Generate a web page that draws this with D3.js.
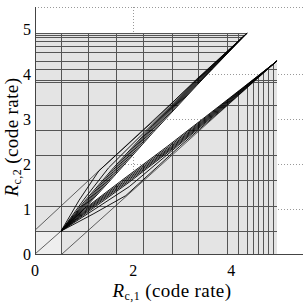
<!DOCTYPE html>
<html>
<head>
<meta charset="utf-8">
<script src="https://cdn.jsdelivr.net/npm/d3@7"></script>
<style>
  body { margin: 0; background: #fff; }
  text { font-family: "Liberation Serif", serif; fill: #000; }
</style>
</head>
<body>
<svg id="chart" width="303" height="303"></svg>
<script>
// tick labels
const xTicks = [0, 2, 4]
const yTicks = [0, 1, 2, 3, 4, 5]
// dotted reference lines
const dotX = [2]
const dotY = [1, 2, 3, 4, 5.5]

// grid of code rates (solid lines inside the grey region)
const gridX = [0.53, 1.08, 1.65, 2.2, 2.79, 3.32, 3.91, 4.13, 4.32, 4.44, 4.54, 4.64, 4.75, 4.85, 4.93]
const gridY = [0.51, 1.07, 1.65, 2.2, 2.76, 3.32, 3.83, 3.88, 4.12, 4.3, 4.5, 4.63, 4.74, 4.83, 4.88, 4.92]

// boundary of the grey region (wedge edges)
const upperEdge = [[1.0, 1.0], [1.6, 1.72], [2.4, 2.7], [3.3, 3.76], [4.32, 4.92]]
const lowerEdge = [[1.0, 1.0], [1.72, 1.6], [2.7, 2.4], [3.76, 3.3], [4.93, 4.3]]
const corner = [0.53, 0.51]

// thin straight lines
const thinLines = [
  [[0, 0], [0.53, 0.51]],
  [[0, 0.53], [4.32, 4.92]],
  [[0.55, 0], [4.93, 4.3]]
]

// bundle of curves along the upper edge
const upperBand = [
  [[0.53, 0.51], [0.9, 1.2], [1.3, 1.85], [2.4, 2.95], [3.3, 3.9], [4.32, 4.92]],
  [[0.53, 0.51], [1.0, 1.22], [1.5, 1.92], [2.4, 2.9], [3.3, 3.88], [4.32, 4.92]],
  [[0.53, 0.51], [1.0, 1.16], [1.6, 1.92], [2.4, 2.87], [3.3, 3.86], [4.32, 4.92]],
  [[0.53, 0.51], [1.0, 1.12], [1.6, 1.88], [2.4, 2.84], [3.3, 3.84], [4.32, 4.92]],
  [[0.53, 0.51], [1.0, 1.09], [1.6, 1.84], [2.4, 2.81], [3.3, 3.82], [4.32, 4.92]],
  [[0.53, 0.51], [1.0, 1.06], [1.6, 1.8], [2.4, 2.78], [3.3, 3.8], [4.32, 4.92]],
  [[0.53, 0.51], [1.0, 1.03], [1.6, 1.76], [2.4, 2.74], [3.3, 3.78], [4.32, 4.92]],
  [[0.53, 0.51], [1.0, 1.0], [1.6, 1.72], [2.4, 2.7], [3.3, 3.76], [4.32, 4.92]]
]
// bundle of curves along the lower edge
const lowerBand = [
  [[0.53, 0.51], [1.2, 0.9], [1.85, 1.3], [2.95, 2.4], [3.9, 3.3], [4.93, 4.3]],
  [[0.53, 0.51], [1.22, 1.0], [1.92, 1.5], [2.9, 2.4], [3.88, 3.3], [4.93, 4.3]],
  [[0.53, 0.51], [1.16, 1.0], [1.92, 1.6], [2.87, 2.4], [3.86, 3.3], [4.93, 4.3]],
  [[0.53, 0.51], [1.12, 1.0], [1.88, 1.6], [2.84, 2.4], [3.84, 3.3], [4.93, 4.3]],
  [[0.53, 0.51], [1.09, 1.0], [1.84, 1.6], [2.81, 2.4], [3.82, 3.3], [4.93, 4.3]],
  [[0.53, 0.51], [1.06, 1.0], [1.8, 1.6], [2.78, 2.4], [3.8, 3.3], [4.93, 4.3]],
  [[0.53, 0.51], [1.03, 1.0], [1.76, 1.6], [2.74, 2.4], [3.78, 3.3], [4.93, 4.3]],
  [[0.53, 0.51], [1.0, 1.0], [1.72, 1.6], [2.7, 2.4], [3.76, 3.3], [4.93, 4.3]]
]

const svg = d3.select('#chart')
const x = d3.scaleLinear().domain([0, 5.5]).range([35, 305])
const y = d3.scaleLinear().domain([0, 5.5]).range([254, 7])
const px = v => Math.round(x(v)) + 0.5
const py = v => Math.round(y(v)) + 0.5

const line = d3.line().x(d => x(d[0])).y(d => y(d[1]))

// dotted reference lines
svg.append('g').selectAll('line').data(dotX).join('line')
  .attr('x1', d => px(d)).attr('x2', d => px(d))
  .attr('y1', y(0)).attr('y2', y(5.5))
  .attr('stroke', '#999').attr('stroke-dasharray', '1,2')
svg.append('g').selectAll('line').data(dotY).join('line')
  .attr('x1', x(0)).attr('x2', 303)
  .attr('y1', d => py(d)).attr('y2', d => py(d))
  .attr('stroke', '#999').attr('stroke-dasharray', '1,2')

// grey region
const xMax = gridX[gridX.length - 1]
const yMax = gridY[gridY.length - 1]
const region = [[0, 0], [0, yMax]]
  .concat(upperEdge.slice().reverse())
  .concat(lowerEdge.slice(1))
  .concat([[xMax, 0]])

svg.append('clipPath').attr('id', 'grey-clip')
  .append('path').attr('d', line(region) + 'Z')

svg.append('path')
  .attr('d', line(region) + 'Z')
  .attr('fill', '#e4e4e4')

svg.append('rect')
  .attr('x', x(0)).attr('y', y(corner[1]))
  .attr('width', x(corner[0]) - x(0))
  .attr('height', y(0) - y(corner[1]))
  .attr('fill', '#eeeeee')

// solid grid
const grid = svg.append('g').attr('clip-path', 'url(#grey-clip)')
grid.selectAll('line.gx').data(gridX).join('line')
  .attr('class', 'gx')
  .attr('x1', d => px(d)).attr('x2', d => px(d))
  .attr('y1', y(0)).attr('y2', y(5.5))
  .attr('stroke', '#555').attr('stroke-width', 1)
grid.selectAll('line.gy').data(gridY).join('line')
  .attr('class', 'gy')
  .attr('x1', x(0)).attr('x2', 303)
  .attr('y1', d => py(d)).attr('y2', d => py(d))
  .attr('stroke', '#555').attr('stroke-width', 1)

// thin lines and bundles
svg.append('g').selectAll('path').data(thinLines).join('path')
  .attr('d', line).attr('fill', 'none')
  .attr('stroke', '#222').attr('stroke-width', 0.7)
svg.append('g').selectAll('path').data(upperBand.concat(lowerBand)).join('path')
  .attr('d', line).attr('fill', 'none')
  .attr('stroke', '#000').attr('stroke-width', 0.9)

// spines
svg.append('line').attr('x1', 35.5).attr('x2', 35.5).attr('y1', y(5.5)).attr('y2', y(0))
  .attr('stroke', '#444')
svg.append('line').attr('x1', 35).attr('x2', 303).attr('y1', 254.5).attr('y2', 254.5)
  .attr('stroke', '#444')

// tick labels
svg.append('g').selectAll('text').data(xTicks).join('text')
  .attr('x', d => x(d)).attr('y', 276)
  .attr('text-anchor', 'middle')
  .attr('font-size', '16px')
  .text(d => d)
svg.append('g').selectAll('text').data(yTicks).join('text')
  .attr('x', 31).attr('y', d => y(d) + 5.5)
  .attr('text-anchor', 'end')
  .attr('font-size', '16px')
  .text(d => d)

// axis titles
const xt = svg.append('text')
  .attr('x', 172).attr('y', 297)
  .attr('text-anchor', 'middle')
  .attr('font-size', '19px')
  .attr('letter-spacing', '0.4px')
xt.append('tspan').attr('font-style', 'italic').text('R')
xt.append('tspan').attr('font-size', '12px').attr('dy', 3).text('c,1')
xt.append('tspan').attr('dy', -3).text(' (code rate)')

const yt = svg.append('text')
  .attr('transform', 'translate(18,137) rotate(-90)')
  .attr('text-anchor', 'middle')
  .attr('font-size', '19px')
  .attr('letter-spacing', '0.4px')
yt.append('tspan').attr('font-style', 'italic').text('R')
yt.append('tspan').attr('font-size', '12px').attr('dy', 3).text('c,2')
yt.append('tspan').attr('dy', -3).text(' (code rate)')
</script>
</body>
</html>
